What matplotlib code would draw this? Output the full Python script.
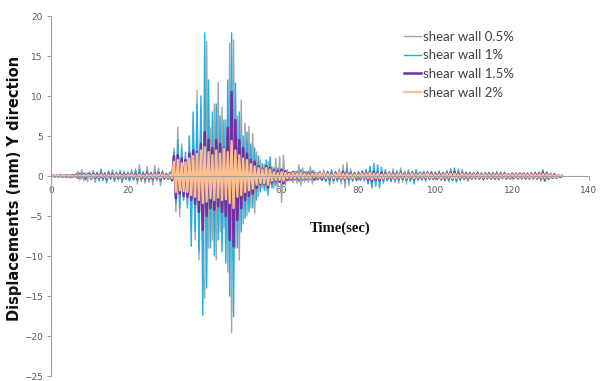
import numpy as np
import matplotlib
matplotlib.use("Agg")
import matplotlib.pyplot as plt

# time axis, 0.5 s step, 0 .. 133 s
time_s = np.arange(0, 133.01, 0.5)

# shear wall 0.5 %
wall_05 = [
    0, 0.1, -0.1, 0.1, -0.2, 0.1, 0.0, -0.1, 0.2, -0.1, 0.1, -0.2, 0.2, -0.1, 0.6, -0.5, 0.8, -0.6, 0.4, -0.7,
    0.5, -0.4, 0.7, -0.8, 0.3, -0.5, 0.9, -0.6, 0.4, -0.9, 0.6, -0.3, 0.8, -0.7, 0.5, -0.4, 0.7, -0.8, 0.6, -0.5,
    0.4, -0.6, 0.8, -0.5, 0.9, -1.0, 1.4, -0.7, 0.6, -0.9, 1.2, -0.8, 0.5, -1.1, 1.3, -0.6, 1.0, -1.2, 0.7, -0.4,
    0.3, -0.2, 0.2, -0.5, 3.5, -4.5, 6.1, -5.1, 4.0, -3.0, 2.5, -3.5, 5.0, -6.5, 7.0, -8.0, 10.7, -10.5, 8.5, -12.0,
    -15.3, 16.8, -9.0, 6.0, -8.0, 9.0, -10.5, 11.7, -7.0, 8.6, -6.5, 7.0, -12.0, 16.6, -19.6, 17.0, -9.0, 7.5, -10.5, 9.5,
    -6.0, 6.6, -5.0, 6.2, -4.0, 5.3, -4.7, 3.0, -2.5, 2.0, -1.5, 1.5, -1.8, 1.8, -1.0, 1.2, -1.5, 2.2, -2.0, 2.4,
    -3.3, 2.6, -1.2, 0.8, -0.6, 0.5, -0.8, 0.6, -0.9, 1.4, -1.2, 1.0, -0.7, 0.6, -0.8, 1.2, -1.0, 0.7, -0.5, 0.4,
    0.6, -0.5, 0.8, -0.7, 0.5, -0.6, 0.7, -0.9, 0.6, -0.5, 0.9, -1.0, 1.4, -1.5, 1.7, -1.2, 0.9, -0.7, 0.5, -0.6,
    0.6, -0.4, 0.5, -0.7, 0.8, -0.9, 1.2, -1.3, 1.0, -0.8, 0.7, -0.9, 0.6, -0.5, 0.8, -0.6, 0.5, -0.7, 0.9, -0.8,
    0.7, -0.9, 1.0, -0.8, 0.6, -1.0, 0.8, -0.6, 0.5, -0.4, 0.6, -0.5, 0.4, -0.6, 0.5, -0.7, 0.6, -0.4, 0.5, -0.5,
    0.4, -0.5, 0.6, -0.4, 0.5, -0.6, 0.7, -0.5, 0.6, -0.4, 0.5, -0.7, 0.9, -0.6, 0.8, -0.5, 0.4, -0.6, 0.5, -0.4,
    0.4, -0.3, 0.5, -0.4, 0.3, -0.5, 0.4, -0.3, 0.5, -0.4, 0.3, -0.4, 0.6, -0.5, 0.4, -0.3, 0.5, -0.4, 0.3, -0.3,
    0.4, -0.3, 0.3, -0.4, 0.4, -0.3, 0.3, -0.4, 0.3, -0.3, 0.4, -0.3, 0.5, -0.4, 0.4, -0.3, 0.7, -0.6, 0.5, -0.4,
    0.3, -0.3, 0.3, -0.2, 0.2, -0.2, 0.1,
]

# shear wall 1 %
wall_1 = [
    0.0, 0.1, -0.1, 0.1, -0.1, 0.1, -0.1, 0.1, -0.1, 0.2, -0.2, 0.1, -0.2, 0.3, -0.3, 0.4, -0.3, 0.4, -0.5, 0.3,
    0.4, -0.5, 0.6, -0.4, 0.5, -0.6, 0.7, -0.5, 0.4, -0.7, 0.6, -0.4, 0.5, -0.6, 0.4, -0.5, 0.6, -0.7, 0.5, -0.4,
    0.5, -0.6, 0.4, -0.5, 0.7, -0.6, 0.8, -0.5, 0.4, -0.6, 0.7, -0.5, 0.4, -0.6, 0.5, -0.4, 0.6, -0.7, 0.5, -0.4,
    0.3, -0.4, 0.5, -0.6, 3.0, -3.5, 4.5, -4.0, 3.5, -3.0, 3.0, -4.0, 5.0, -8.8, 8.0, -7.0, 9.0, -9.5, 10.0, -17.4,
    17.9, -14.0, 12.0, -9.0, 8.0, -10.0, 9.0, -8.0, 7.5, -9.5, 7.0, -10.9, 12.0, -15.0, 17.9, -17.6, 11.6, -9.0, 8.0, -7.0,
    5.0, -5.3, 5.5, -4.5, 4.0, -4.0, 3.5, -3.0, 2.5, -2.0, 1.5, -1.8, 2.0, -2.4, 2.4, -1.5, 1.0, -1.2, 1.0, -0.8,
    0.8, -1.0, 0.6, -0.5, 0.4, -0.6, 0.5, -0.4, 0.6, -0.7, 0.8, -0.6, 0.5, -0.4, 0.6, -0.5, 0.7, -0.6, 0.4, -0.5,
    0.5, -0.6, 0.4, -0.7, 0.6, -1.1, 0.8, -0.6, 0.5, -0.7, 0.6, -0.5, 0.7, -0.8, 0.9, -0.7, 0.6, -0.5, 0.4, -0.6,
    0.5, -0.6, 0.7, -0.5, 0.8, -1.0, 1.2, -1.5, 1.6, -1.3, 1.4, -1.5, 1.1, -0.9, 0.7, -0.6, 0.5, -0.7, 0.6, -0.5,
    0.5, -0.6, 0.7, -0.5, 0.4, -0.6, 0.5, -0.7, 0.6, -1.0, 0.8, -0.6, 0.5, -0.4, 0.6, -0.5, 0.4, -0.5, 0.6, -0.4,
    0.5, -0.4, 0.6, -0.5, 0.4, -0.6, 0.5, -0.7, 0.9, -0.6, 1.0, -0.8, 0.7, -0.5, 0.6, -0.4, 0.5, -0.6, 0.4, -0.3,
    0.3, -0.4, 0.5, -0.3, 0.4, -0.5, 0.3, -0.4, 0.4, -0.3, 0.5, -0.4, 0.3, -0.4, 0.5, -0.3, 0.4, -0.3, 0.3, -0.4,
    0.3, -0.3, 0.4, -0.3, 0.3, -0.4, 0.3, -0.3, 0.4, -0.3, 0.3, -0.4, 0.4, -0.3, 0.5, -0.6, 0.8, -0.7, 0.5, -0.4,
    0.3, -0.3, 0.2, -0.3, 0.2, -0.2, 0.1,
]

# shear wall 1.5 %
wall_15 = [
    0.0, 0.05, -0.05, 0.05, -0.05, 0.1, -0.1, 0.1, -0.1, 0.1, -0.15, 0.1, -0.1, 0.15, -0.2, 0.15, -0.1, 0.2, -0.2, 0.15,
    0.2, -0.2, 0.25, -0.2, 0.2, -0.25, 0.3, -0.2, 0.2, -0.3, 0.25, -0.2, 0.2, -0.25, 0.3, -0.2, 0.25, -0.3, 0.2, -0.2,
    0.25, -0.2, 0.3, -0.25, 0.2, -0.3, 0.3, -0.25, 0.2, -0.3, 0.35, -0.3, 0.25, -0.3, 0.3, -0.25, 0.35, -0.4, 0.3, -0.25,
    0.2, -0.3, 0.3, -0.5, 2.5, -2.8, 2.6, -2.2, 2.2, -2.5, 2.0, -2.6, 2.8, -3.0, 3.2, -3.5, 3.0, -4.5, 4.0, -6.75,
    5.5, -5.0, 4.5, -4.0, 3.5, -4.2, 4.5, -3.8, 4.0, -4.5, 3.5, -5.0, 6.0, -8.0, 10.5, -8.8, 7.0, -5.5, 4.5, -4.0,
    3.5, -3.0, 2.8, -2.5, 2.0, -2.2, 1.8, -1.5, 1.2, -1.0, 0.9, -1.0, 1.2, -1.4, 1.0, -0.8, 0.7, -0.6, 0.6, -0.7,
    0.8, -0.9, 0.6, -0.5, 0.4, -0.4, 0.5, -0.4, 0.3, -0.4, 0.4, -0.3, 0.4, -0.4, 0.3, -0.3, 0.4, -0.4, 0.3, -0.3,
    0.3, -0.4, 0.3, -0.4, 0.4, -0.3, 0.3, -0.4, 0.4, -0.3, 0.4, -0.4, 0.5, -0.4, 0.4, -0.3, 0.3, -0.4, 0.3, -0.3,
    0.3, -0.3, 0.4, -0.3, 0.4, -0.5, 0.5, -0.6, 0.5, -0.5, 0.4, -0.5, 0.4, -0.4, 0.3, -0.3, 0.4, -0.3, 0.3, -0.4,
    0.3, -0.3, 0.4, -0.3, 0.3, -0.4, 0.3, -0.3, 0.4, -0.4, 0.3, -0.3, 0.4, -0.3, 0.3, -0.3, 0.4, -0.3, 0.3, -0.3,
    0.3, -0.3, 0.3, -0.4, 0.3, -0.3, 0.4, -0.3, 0.4, -0.4, 0.5, -0.4, 0.3, -0.3, 0.4, -0.3, 0.3, -0.3, 0.3, -0.3,
    0.3, -0.2, 0.3, -0.3, 0.2, -0.3, 0.3, -0.2, 0.3, -0.3, 0.2, -0.3, 0.3, -0.3, 0.2, -0.2, 0.3, -0.3, 0.2, -0.3,
    0.3, -0.2, 0.2, -0.3, 0.3, -0.2, 0.3, -0.3, 0.2, -0.3, 0.3, -0.2, 0.3, -0.3, 0.3, -0.3, 0.4, -0.4, 0.3, -0.3,
    0.2, -0.2, 0.2, -0.2, 0.1, -0.1, 0.0,
]

# shear wall 2 %
wall_2 = [
    0.0, 0.05, -0.05, 0.05, -0.05, 0.05, -0.05, 0.1, -0.05, 0.1, -0.1, 0.05, -0.1, 0.1, -0.1, 0.1, -0.1, 0.15, -0.1, 0.1,
    0.1, -0.15, 0.15, -0.1, 0.1, -0.15, 0.2, -0.1, 0.1, -0.2, 0.15, -0.1, 0.1, -0.15, 0.2, -0.1, 0.15, -0.2, 0.1, -0.1,
    0.15, -0.1, 0.2, -0.15, 0.1, -0.2, 0.2, -0.15, 0.1, -0.2, 0.2, -0.2, 0.15, -0.2, 0.2, -0.15, 0.2, -0.25, 0.2, -0.15,
    0.1, -0.2, 0.2, -0.3, 1.8, -2.0, 2.0, -1.8, 1.6, -1.9, 1.7, -2.0, 2.2, -2.4, 2.5, -2.6, 2.8, -3.0, 3.2, -3.4,
    3.6, -3.2, 3.0, -2.8, 2.6, -3.0, 3.2, -2.7, 2.8, -3.0, 3.4, -2.9, 3.0, -3.4, 4.4, -4.0, 3.2, -2.6, 2.6, -2.4,
    2.2, -2.0, 2.0, -1.8, 1.5, -1.6, 1.2, -1.1, 1.0, -0.9, 0.8, -0.9, 1.0, -1.1, 0.8, -0.6, 0.5, -0.5, 0.4, -0.5,
    0.5, -0.6, 0.4, -0.3, 0.3, -0.3, 0.4, -0.3, 0.3, -0.3, 0.4, -0.3, 0.3, -0.3, 0.2, -0.3, 0.3, -0.2, 0.3, -0.2,
    0.3, -0.2, 0.3, -0.3, 0.3, -0.2, 0.2, -0.3, 0.3, -0.2, 0.4, -0.3, 0.3, -0.3, 0.3, -0.2, 0.2, -0.3, 0.2, -0.2,
    0.2, -0.2, 0.3, -0.2, 0.3, -0.3, 0.4, -0.4, 0.3, -0.3, 0.3, -0.3, 0.2, -0.3, 0.2, -0.2, 0.3, -0.2, 0.2, -0.3,
    0.2, -0.2, 0.3, -0.2, 0.2, -0.3, 0.2, -0.2, 0.3, -0.3, 0.2, -0.2, 0.3, -0.2, 0.2, -0.2, 0.3, -0.2, 0.2, -0.2,
    0.2, -0.2, 0.2, -0.3, 0.2, -0.2, 0.3, -0.2, 0.3, -0.3, 0.3, -0.3, 0.2, -0.2, 0.3, -0.2, 0.2, -0.2, 0.2, -0.2,
    0.2, -0.15, 0.2, -0.2, 0.15, -0.2, 0.2, -0.15, 0.2, -0.2, 0.15, -0.2, 0.2, -0.2, 0.15, -0.15, 0.2, -0.2, 0.15, -0.2,
    0.2, -0.15, 0.15, -0.2, 0.2, -0.15, 0.2, -0.2, 0.15, -0.2, 0.2, -0.15, 0.2, -0.2, 0.2, -0.2, 0.25, -0.25, 0.2, -0.2,
    0.15, -0.15, 0.1, -0.15, 0.1, -0.05, 0.0,
]

labels = ["shear wall 0.5%", "shear wall 1%", "shear wall 1.5%", "shear wall 2%"]
x_ticks = [0, 20, 40, 60, 80, 100, 120, 140]
y_ticks = [-25, -20, -15, -10, -5, 0, 5, 10, 15, 20]

fig = plt.figure(figsize=(6, 3.81), dpi=100)
ax = fig.add_axes([51 / 600, 5 / 381, 538 / 600, 360 / 381])

l1, = ax.plot(time_s, wall_05, color="#a6a6a6", lw=1.0, label=labels[0])
l2, = ax.plot(time_s, wall_1, color="#1fb0e6", lw=1.0, label=labels[1])
l3, = ax.plot(time_s, wall_15, color="#7030a0", lw=1.8, label=labels[2])
l4, = ax.plot(time_s, wall_2, color="#fac090", lw=1.6, label=labels[3])

ax.set_xlim(0, 140)
ax.set_ylim(-25, 20)
ax.set_xticks(x_ticks)
ax.set_yticks(y_ticks)

for s in ["top", "right"]:
    ax.spines[s].set_visible(False)
ax.spines["bottom"].set_position(("data", 0))
ax.spines["bottom"].set_color("#a0a0a0")
ax.spines["left"].set_color("#a0a0a0")
ax.spines["bottom"].set_linewidth(0.8)
ax.spines["left"].set_linewidth(0.8)
ax.tick_params(axis="both", colors="#a0a0a0", labelcolor="#595959",
               labelsize=6.5, length=3, width=0.8, direction="out")
ax.tick_params(axis="x", pad=4)
ax.tick_params(axis="y", pad=3)

fig.text(0.025, 0.505, "Displacements (mm) Y direction", rotation=90,
         ha="center", va="center", fontsize=10.5, fontweight="bold",
         family="DejaVu Sans", color="#111111")
fig.text(340 / 600, 1 - 228 / 381, "Time(sec)", ha="center", va="center",
         fontsize=10.5, fontweight="bold", family="Liberation Serif", color="#111111")

leg = fig.legend(handles=[l1, l2, l3, l4], loc="upper left",
                 bbox_to_anchor=(392 / 600, 1 - 19 / 381), frameon=False,
                 handlelength=1.3, handletextpad=0.15, labelspacing=0.5,
                 prop={"family": "Lato", "size": 9.5})
for t in leg.get_texts():
    t.set_color("#404040")

fig.savefig("out.png", dpi=100)
